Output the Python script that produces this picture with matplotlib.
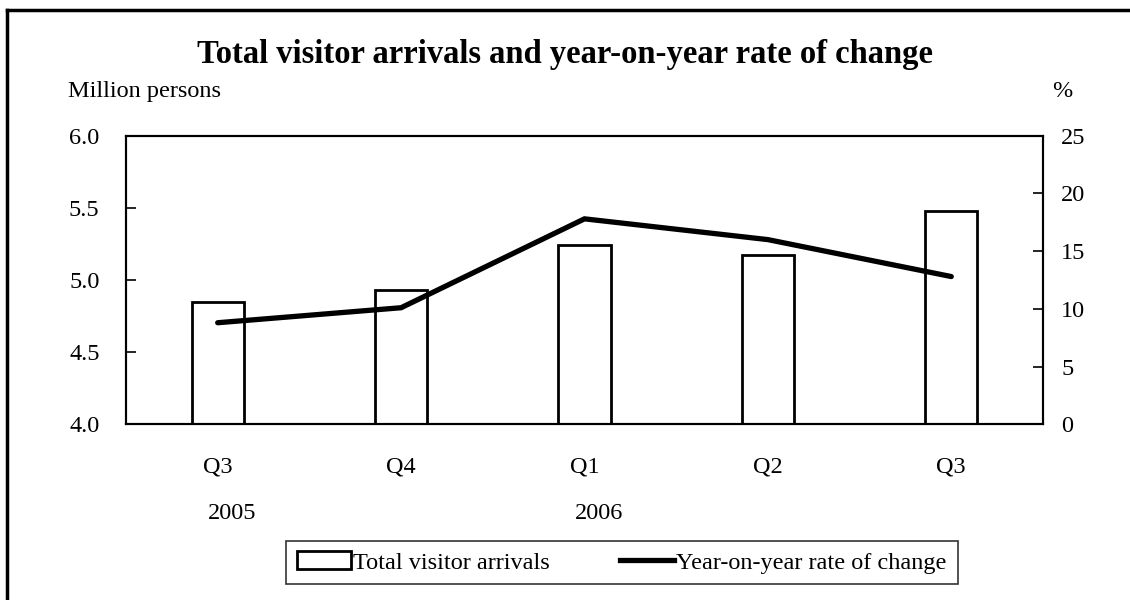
import matplotlib.pyplot as plt
from matplotlib.lines import Line2D
from matplotlib.patches import Patch

plt.rcParams['font.family'] = ['Liberation Serif', 'DejaVu Serif']

quarters = ["Q3", "Q4", "Q1", "Q2", "Q3"]
years = {0: "2005", 2: "2006"}
arrivals = [4.85, 4.93, 5.24, 5.17, 5.48]  # million persons
yoy_change = [8.8, 10.1, 17.8, 16.0, 12.8]  # %

fig = plt.figure(figsize=(11.3, 6), dpi=100)
ax = fig.add_axes([0.1115, 0.2928, 0.8115, 0.481])
ax2 = ax.twinx()

x = range(len(quarters))
ax.bar(x, [v - 4.0 for v in arrivals], bottom=4.0, width=0.285,
       facecolor="white", edgecolor="black", linewidth=2, zorder=2)
ax2.plot(x, yoy_change, color="black", linewidth=3.8,
         solid_capstyle="round", solid_joinstyle="miter", zorder=3)

ax.set_xlim(-0.5, len(quarters) - 0.5)
ax.set_ylim(4.0, 6.0)
ax.set_yticks([4.0, 4.5, 5.0, 5.5, 6.0])
ax.set_yticklabels([f"{t:.1f}" for t in [4.0, 4.5, 5.0, 5.5, 6.0]])
ax2.set_ylim(0, 25)
ax2.set_yticks([0, 5, 10, 15, 20, 25])

ax.set_xticks(list(x))
ax.set_xticklabels(quarters)
ax.tick_params(axis="x", length=0, pad=23, labelsize=17.5)
ax.tick_params(axis="y", direction="in", length=7, width=1.2, pad=19, labelsize=17.5)
ax2.tick_params(axis="y", direction="in", length=7, width=1.2, pad=13, labelsize=17.5)

for a in (ax, ax2):
    for s in a.spines.values():
        s.set_linewidth(1.5)
        s.set_color("black")

for i, yr in years.items():
    ax.text(i + 0.08, -0.31, yr, transform=ax.get_xaxis_transform(),
            ha="center", va="center", fontsize=17.5)

fig.text(0.5, 0.91, "Total visitor arrivals and year-on-year rate of change",
         ha="center", va="center", fontsize=23.5, fontweight="bold")
fig.text(0.06, 0.847, "Million persons", ha="left", va="center", fontsize=17.5)
fig.text(0.94, 0.847, "%", ha="center", va="center", fontsize=17.5)

handles = [Patch(facecolor="white", edgecolor="black", linewidth=2),
           Line2D([0], [0], color="black", linewidth=3.8)]
leg = fig.legend(handles, ["Total visitor arrivals", "Year-on-year rate of change"],
                 loc="center", bbox_to_anchor=(0.5505, 0.0625), ncol=2,
                 fontsize=17.5, frameon=True, fancybox=False, edgecolor="black",
                 handlelength=2.2, handletextpad=0.1, columnspacing=2.9,
                 borderpad=0.45)
leg.get_frame().set_linewidth(1.2)

# frame round the chart: only top and left edges fall inside the canvas
fig.add_artist(Line2D([0.0062, 0.0062], [0.0, 0.9833], color="black",
                      linewidth=2.5, transform=fig.transFigure))
fig.add_artist(Line2D([0.0062, 1.0], [0.9833, 0.9833], color="black",
                      linewidth=2.5, transform=fig.transFigure))

fig.savefig("out.png", dpi=100)
